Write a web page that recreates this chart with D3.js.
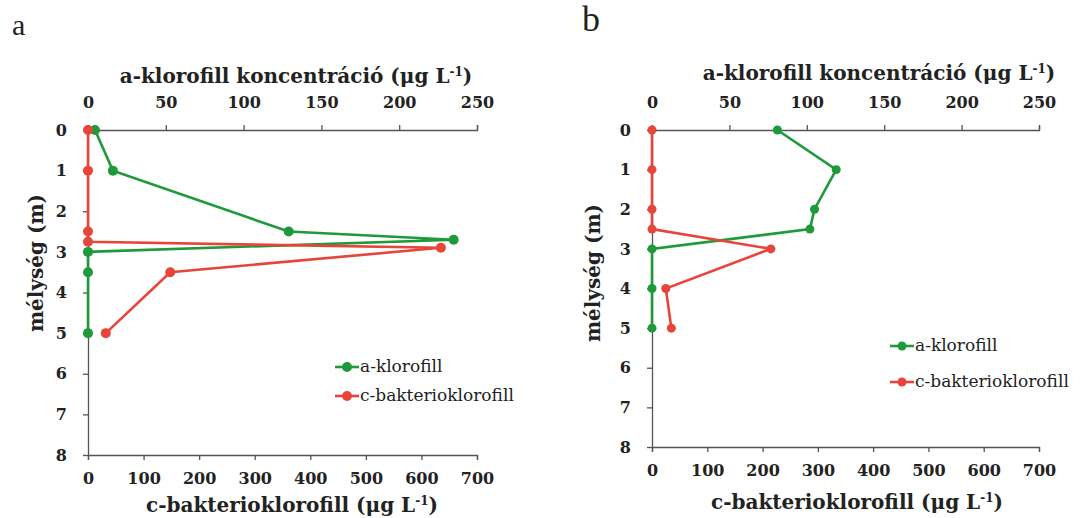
<!DOCTYPE html>
<html>
  <head>
    <title>Klorofill profilok</title>
    <script src="https://d3js.org/d3.v7.min.js"></script>
    <style>
      html, body {
        margin:0;
        padding:0;
        background:#fff;
      }
      svg text {
        font-family: "DejaVu Serif", "Liberation Serif", serif;
        fill:#222;
      }
      .axis path, .axis line {
        stroke:#555;
        stroke-width:1.3;
      }
      .axis text {
        font-size:16px;
        font-weight:bold;
      }
    </style>
  </head>
  <body>
    <svg id="chart" width="1085" height="518"></svg>

    <script>
      // panel a
      var depthChlA_a = [0, 1, 2.5, 2.7, 3, 3.5, 5];
      var chlA_a      = [4.5, 16, 129, 235, 0, 0, 0];
      var depthBchl_a = [0, 1, 2.5, 2.75, 2.9, 3.5, 5];
      var bchl_a      = [0, 0, 0, 0, 635, 148, 32];

      // panel b
      var depthChlA_b = [0, 1, 2, 2.5, 3, 4, 5];
      var chlA_b      = [81, 119, 105, 102, 0, 0, 0];
      var depthBchl_b = [0, 1, 2, 2.5, 3, 4, 5];
      var bchl_b      = [0, 0, 0, 0, 215, 25, 35];

      var topTicks = [0, 50, 100, 150, 200, 250];
      var bottomTicks = [0, 100, 200, 300, 400, 500, 600, 700];
      var depthTicks = [0, 1, 2, 3, 4, 5, 6, 7, 8];
      var seriesNames = ["a-klorofill", "c-bakterioklorofill"];

      var green = "#1e9a3b";
      var red = "#e8453a";

      var svg = d3.select("#chart");

      function drawPanel(p) {
        var g = svg.append("g");

        var xTop = d3.scaleLinear().domain([0, 250]).range([p.x0, p.x1]);
        var xBot = d3.scaleLinear().domain([0, 700]).range([p.x0, p.x1]);
        var y = d3.scaleLinear().domain([0, 8]).range([p.y0, p.y1]);

        g.append("g").attr("class", "axis")
          .attr("transform", "translate(0," + p.y0 + ")")
          .call(d3.axisTop(xTop).tickValues(topTicks).tickSize(5).tickSizeOuter(5).tickPadding(17));

        g.append("g").attr("class", "axis")
          .attr("transform", "translate(0," + p.y1 + ")")
          .call(d3.axisBottom(xBot).tickValues(bottomTicks).tickSize(5).tickSizeOuter(5).tickPadding(13));

        g.append("g").attr("class", "axis")
          .attr("transform", "translate(" + p.x0 + ",0)")
          .call(d3.axisLeft(y).tickValues(depthTicks).tickSize(5).tickSizeOuter(0).tickPadding(16));

        // panel letter
        g.append("text")
          .attr("x", p.letterX).attr("y", p.letterY)
          .style("font-family", "Liberation Serif")
          .style("font-size", p.letterSize + "px")
          .text(p.letter);

        // axis titles
        var topTitle = g.append("text")
          .attr("x", p.topTitleX).attr("y", p.topTitleY)
          .attr("text-anchor", "middle")
          .style("font-size", "20px").style("font-weight", "bold");
        topTitle.append("tspan").text("a-klorofill koncentráció (μg L");
        topTitle.append("tspan").attr("dy", -7).style("font-size", "12px").text("-1");
        topTitle.append("tspan").attr("dy", 7).text(")");

        var botTitle = g.append("text")
          .attr("x", p.botTitleX).attr("y", p.botTitleY)
          .attr("text-anchor", "middle")
          .style("font-size", "20px").style("font-weight", "bold");
        botTitle.append("tspan").text("c-bakterioklorofill (μg L");
        botTitle.append("tspan").attr("dy", -7).style("font-size", "12px").text("-1");
        botTitle.append("tspan").attr("dy", 7).text(")");

        g.append("text")
          .attr("transform", "translate(" + p.yTitleX + "," + p.yTitleY + ") rotate(-90)")
          .attr("text-anchor", "middle")
          .style("font-size", "20px").style("font-weight", "bold")
          .text("mélység (m)");

        // series
        var seriesA = p.depthA.map(function(d, i) { return { x: xTop(p.valA[i]), y: y(d) }; });
        var seriesB = p.depthB.map(function(d, i) { return { x: xBot(p.valB[i]), y: y(d) }; });

        var line = d3.line().x(function(d) { return d.x; }).y(function(d) { return d.y; });

        [[seriesA, green], [seriesB, red]].forEach(function(s) {
          g.append("path")
            .attr("d", line(s[0]))
            .attr("fill", "none")
            .attr("stroke", s[1])
            .attr("stroke-width", 2.6);
        });
        [[seriesA, green], [seriesB, red]].forEach(function(s) {
          g.selectAll(null).data(s[0]).enter().append("circle")
            .attr("cx", function(d) { return d.x; })
            .attr("cy", function(d) { return d.y; })
            .attr("r", p.r)
            .attr("fill", s[1]);
        });

        // legend
        var leg = g.append("g");
        [green, red].forEach(function(c, i) {
          var ly = p.legY + i * p.legGap;
          leg.append("line")
            .attr("x1", p.legX).attr("x2", p.legX + 24)
            .attr("y1", ly).attr("y2", ly)
            .attr("stroke", c).attr("stroke-width", 2.6);
          leg.append("circle")
            .attr("cx", p.legX + 12).attr("cy", ly).attr("r", p.r)
            .attr("fill", c);
          leg.append("text")
            .attr("x", p.legX + 25).attr("y", ly + 5)
            .style("font-size", "17px")
            .text(seriesNames[i]);
        });
      }

      drawPanel({
        letter: "a", letterX: 12, letterY: 35, letterSize: 30,
        x0: 88, x1: 477, y0: 130, y1: 455,
        topTitleX: 296, topTitleY: 83,
        botTitleX: 292, botTitleY: 512,
        yTitleX: 43, yTitleY: 263,
        depthA: depthChlA_a, valA: chlA_a,
        depthB: depthBchl_a, valB: bchl_a,
        r: 5, legX: 335, legY: 367, legGap: 29
      });

      drawPanel({
        letter: "b", letterX: 582, letterY: 31, letterSize: 36,
        x0: 652, x1: 1039, y0: 130, y1: 447,
        topTitleX: 879, topTitleY: 80,
        botTitleX: 857, botTitleY: 509,
        yTitleX: 600, yTitleY: 273,
        depthA: depthChlA_b, valA: chlA_b,
        depthB: depthBchl_b, valB: bchl_b,
        r: 4.5, legX: 890, legY: 346, legGap: 36
      });
    </script>
  </body>
</html>
